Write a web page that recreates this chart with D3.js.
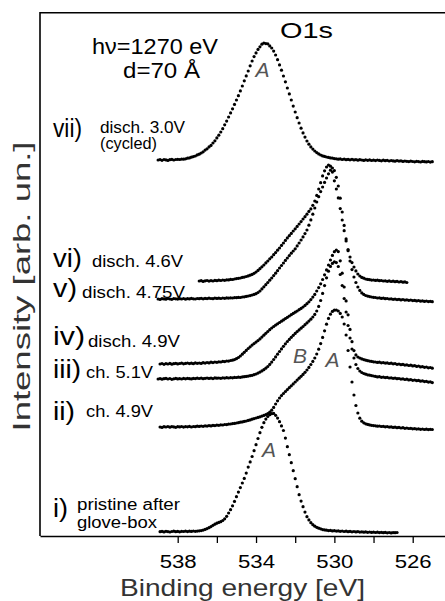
<!DOCTYPE html>
<html><head><meta charset="utf-8">
<script src="https://cdn.jsdelivr.net/npm/d3@7"></script>
<style>html,body{margin:0;padding:0;background:#fff;}svg{display:block;}</style>
</head><body>
<svg id="chart" width="445" height="601"></svg>
<script>
// O1s spectra, one array per electrode state, sampled every 0.1 eV from high to low binding energy.
// Intensities are given relative to each spectrum's own baseline; baselineOffset stacks them.
const numeralLabels = ["i)", "ii)", "iii)", "iv)", "v)", "vi)", "vii)"];
const stateLabels = [["pristine after", "glove-box"], ["ch. 4.9V"], ["ch. 5.1V"], ["disch. 4.9V"],
                     ["disch. 4.75V"], ["disch. 4.6V"], ["disch. 3.0V", "(cycled)"]];
const startEnergy = [538.9, 538.9, 539.0, 538.9, 539.0, 536.9, 539.0];
const energyStep = 0.1;
const baselineOffset = [4.3, 109, 157, 172, 237, 255, 376];

const spec_i = [
  0.0,0.3,-0.2,0.4,0.1,-0.3,0.2,0.5,0.0,0.3,
  -0.1,0.4,0.2,0.6,0.1,0.5,0.3,0.7,0.4,0.6,
  0.9,1.1,1.6,2.3,3.1,4.0,5.1,6.4,7.5,8.5,
  9.3,10.0,11.2,12.9,15.4,18.7,22.0,25.9,30.3,35.0,
  39.6,44.1,48.7,53.3,58.6,64.6,69.8,75.2,81.0,87.0,
  93.2,99.0,104.4,109.0,112.6,115.2,117.0,118.0,118.3,116.4,
  113.6,110.0,105.8,101.2,93.6,85.0,77.0,69.0,61.0,53.0,
  45.0,37.0,30.6,25.0,19.6,15.0,11.8,9.0,7.0,5.5,
  4.4,3.5,2.9,2.1,1.8,1.5,1.1,1.3,0.8,1.0,
  0.6,0.8,0.4,0.7,0.2,0.5,0.0,0.3,-0.1,0.2,
  -0.2,0.1,-0.4,-0.1,-0.5,-0.2,-0.6,-0.3,-0.7,-0.4,
  -0.8,-0.5,-0.9,-0.6,-1.0,-0.7,-1.1,-0.8,-1.2,-0.9,
  -1.0,-0.8];

const spec_ii = [
  0.0,-0.4,0.3,0.0,0.5,-0.2,0.4,0.1,-0.3,0.3,
  0.1,0.5,-0.1,0.4,0.2,0.6,0.0,0.5,0.3,0.8,
  0.6,1.0,0.7,1.2,0.9,1.4,1.1,1.6,1.4,1.9,
  1.7,2.2,2.0,2.5,2.4,2.9,3.0,3.4,3.6,4.0,
  4.3,4.8,5.1,5.6,6.0,6.6,7.1,7.8,8.4,9.0,
  9.6,10.2,10.9,11.6,12.4,13.4,14.8,16.8,19.6,23.0,
  26.2,29.0,31.4,33.5,35.5,37.4,39.3,41.2,43.1,45.0,
  46.9,48.8,50.7,52.6,54.7,57.0,59.6,62.5,65.6,69.0,
  73.0,77.8,83.4,89.6,96.2,102.8,108.6,112.8,115.6,116.8,
  117.0,116.0,113.6,110.0,103.0,92.0,76.5,60.0,45.0,32.0,
  21.5,14.0,8.8,5.8,4.2,3.2,2.6,2.1,1.7,1.4,
  1.2,0.8,1.0,0.5,0.7,0.2,0.4,-0.1,0.1,-0.4,
  -0.2,-0.7,-0.4,-1.0,-0.7,-1.3,-1.0,-1.5,-1.3,-1.8,
  -1.6,-2.1,-1.8,-2.3,-2.0,-2.5,-2.2,-2.6,-2.3,-2.5];

const spec_iii = [
  0.0,0.4,-0.2,0.3,0.6,0.0,0.5,-0.3,0.2,0.6,0.1,
  0.4,0.0,0.6,0.2,0.7,0.3,0.1,0.6,0.4,0.8,
  0.5,0.9,0.3,0.7,1.0,0.6,0.9,0.4,1.1,0.8,
  1.0,0.7,1.2,0.9,1.3,1.0,1.4,1.2,1.6,1.5,
  1.8,1.7,2.1,2.3,2.6,2.9,3.3,3.7,4.3,5.0,
  5.9,6.9,8.1,9.3,10.8,12.5,14.6,16.9,19.5,22.1,
  24.8,27.5,30.1,32.7,35.2,37.5,39.6,41.7,43.7,45.6,
  47.4,49.1,50.8,52.5,54.3,56.1,57.9,59.8,62.0,64.6,
  68.0,72.6,78.5,85.6,93.4,101.2,107.8,112.6,115.6,117.2,
  116.4,112.5,104.5,93.5,80.5,67.0,53.5,41.0,30.0,21.0,
  14.5,10.5,8.0,6.5,5.5,4.8,4.2,3.8,3.4,3.0,
  2.6,2.1,2.3,1.7,1.9,1.4,1.6,1.0,1.2,0.7,
  0.9,0.3,0.5,-0.1,0.2,-0.5,-0.2,-0.9,-0.6,-1.3,
  -1.0,-1.7,-1.4,-2.2,-1.8,-2.6,-2.3,-3.1,-2.8,-3.6];

const spec_iv = [
  0.0,0.5,-0.3,0.4,0.0,0.6,-0.2,0.3,0.7,0.1,
  0.5,0.9,0.2,0.6,1.0,0.4,0.8,0.3,1.1,0.7,
  1.0,0.6,1.3,0.9,1.5,1.1,1.8,1.4,2.0,1.7,
  2.2,2.0,2.6,2.4,3.0,2.9,3.5,3.8,4.4,5.3,
  6.5,8.0,9.8,11.7,13.6,15.5,17.2,18.9,20.4,21.9,
  23.4,25.1,26.9,28.8,30.7,32.5,34.3,36.0,37.5,38.9,
  40.2,41.5,42.8,44.1,45.4,46.7,48.0,49.3,50.6,51.8,
  53.0,54.3,55.6,57.0,58.6,60.3,62.2,64.4,66.9,69.6,
  73.0,76.4,80.2,84.5,89.2,94.1,99.0,104.0,108.6,112.3,
  114.0,112.4,103.2,90.8,77.0,63.1,49.2,34.6,22.3,13.4,
  9.1,7.0,6.0,5.1,4.4,3.8,3.3,2.9,2.6,2.2,
  2.0,1.6,1.8,1.2,1.4,0.9,1.1,0.5,0.8,0.2,
  0.4,-0.3,0.0,-0.7,-0.4,-1.1,-0.8,-1.5,-1.2,-1.9,
  -1.6,-2.4,-2.0,-2.9,-2.6,-3.3,-3.0,-3.8,-3.5,-4.2];

const spec_v = [
  0.0,-0.4,0.3,0.1,-0.2,0.5,0.0,-0.3,0.4,0.2,-0.1,
  0.3,0.0,0.5,-0.2,0.4,0.1,0.6,0.2,0.0,0.5,
  0.3,0.7,0.2,0.6,0.4,0.8,0.5,0.3,0.9,0.6,
  0.8,0.5,1.0,0.7,1.1,0.9,1.2,1.0,1.4,1.3,
  1.6,1.5,2.0,2.2,2.6,3.0,3.4,4.0,4.6,5.3,
  6.5,8.0,10.1,12.2,14.3,16.5,18.8,21.0,23.4,25.8,
  28.3,31.0,33.5,36.0,38.6,41.0,43.4,45.8,48.0,50.2,
  53.1,56.0,59.0,62.1,65.4,69.0,73.8,79.1,84.8,91.0,
  97.0,102.3,107.4,112.0,116.6,121.0,125.2,128.8,131.0,128.4,
  121.7,113.0,100.8,87.0,73.6,60.1,48.3,38.0,29.4,22.0,
  16.5,12.0,8.6,6.1,4.6,3.5,2.9,2.4,2.0,1.7,
  1.5,1.0,1.2,0.6,0.9,0.3,0.5,0.0,0.2,-0.3,
  -0.1,-0.6,-0.3,-0.9,-0.5,-1.1,-0.8,-1.3,-1.0,-1.6,
  -1.4,-1.9,-1.5,-2.2,-1.8,-2.4,-2.0,-2.6,-2.3,-2.7];

const spec_vi = [
  0.0,0.3,-0.4,0.2,0.5,-0.1,0.4,0.0,0.6,0.3,
  0.8,0.5,1.0,0.7,1.2,1.1,1.6,1.5,2.0,2.4,
  2.7,3.0,3.6,3.9,4.5,5.1,5.8,6.6,7.7,9.0,
  10.6,12.3,14.2,16.0,18.1,20.0,22.2,24.0,26.3,28.4,
  30.8,33.0,35.6,38.0,40.6,43.1,45.3,47.6,50.0,52.2,
  54.6,57.0,59.4,62.0,64.3,66.8,69.6,72.1,75.7,80.0,
  85.6,92.0,98.3,105.1,110.2,114.0,116.0,114.8,108.9,100.2,
  92.0,83.1,72.4,61.0,50.3,40.1,31.4,24.0,18.4,14.0,
  10.1,7.0,5.0,3.6,2.8,2.0,1.6,1.3,0.9,1.0,
  0.6,0.8,0.3,0.5,0.0,0.2,-0.3,0.1,-0.5,-0.2,
  -0.7,-0.4,-1.0,-0.6,-1.2,-0.9,-1.5];

const spec_vii = [
  0.0,0.4,-0.3,0.5,0.1,-0.4,0.3,0.6,0.0,0.5,0.7,
  0.5,0.9,0.8,1.2,1.8,2.1,2.8,3.4,4.0,5.1,
  5.8,7.0,8.2,9.9,11.2,13.1,14.6,17.0,19.2,22.1,
  24.8,28.0,31.3,35.2,38.9,43.0,47.1,51.2,55.6,60.0,
  64.3,69.1,74.0,79.2,84.1,89.0,94.2,99.0,103.4,107.1,
  110.6,113.2,115.8,117.0,116.4,116.2,114.1,112.0,108.9,105.0,
  100.3,95.1,89.8,84.0,78.2,72.0,66.1,60.0,53.9,48.0,
  42.3,37.0,31.8,27.1,22.9,19.0,15.8,13.1,10.9,9.0,
  7.4,6.1,5.0,4.1,3.6,3.0,2.6,2.1,1.9,1.4,
  1.2,0.8,1.1,0.5,0.9,0.3,0.6,0.2,0.7,0.1,
  0.4,-0.2,0.3,0.0,-0.4,0.2,-0.3,0.1,-0.5,-0.1,
  -0.6,0.0,-0.4,-0.8,-0.2,-0.7,-0.3,-1.0,-0.5,-0.9,
  -1.2,-0.6,-1.1,-0.8,-1.4,-1.0,-1.3,-1.6,-1.1,-1.5,
  -1.8,-1.3,-1.6,-2.0,-1.4,-1.7,-1.9,-1.5,-2.1,-1.7];

const spectra = [spec_i, spec_ii, spec_iii, spec_iv, spec_v, spec_vi, spec_vii];

const tickValues = [538, 536, 534, 532, 530, 528, 526];
const tickLabels = ["538", "", "534", "", "530", "", "526"];

// peak component markers: letter, binding energy, intensity
const peakNames = ["A", "A", "B", "A"];
const peakEnergy = [533.67, 533.34, 531.75, 530.09];
const peakLevel = [459.5, 79.5, 173, 169.5];

const FONT = "'Liberation Sans', Arial, Helvetica, sans-serif";
const svg = d3.select("#chart");

const x = d3.scaleLinear().domain([545.031, 524.351]).range([40, 445]);
const y = d3.scaleLinear().domain([0, 523.3]).range([536, 12.7]);

// frame: left spine and top edge
svg.append("path")
  .attr("d", `M${x.range()[1]},${y.range()[1]}H${x.range()[0]}V${y.range()[0]}`)
  .attr("fill", "none").attr("stroke", "#000").attr("stroke-width", 1.6);

// bottom axis
const xAxis = d3.axisBottom(x)
  .tickValues(tickValues)
  .tickFormat((d, i) => tickLabels[i])
  .tickSizeInner(7).tickSizeOuter(0);
const gx = svg.append("g").attr("transform", `translate(0,${y.range()[0]})`).call(xAxis);
gx.select(".domain").attr("stroke-width", 1.6);
gx.selectAll(".tick line").attr("stroke-width", 1.3);
gx.selectAll(".tick text")
  .attr("y", 32).attr("dy", null)
  .attr("font-family", FONT).attr("font-size", 18).attr("fill", "#000")
  .each(function () { if (this.textContent) d3.select(this).attr("textLength", 37).attr("lengthAdjust", "spacingAndGlyphs"); });

// spectra drawn as sample markers
spectra.forEach((vals, s) => {
  const pts = vals.map((v, k) => ({ e: startEnergy[s] - k * energyStep, v: baselineOffset[s] + v }));
  svg.append("g").selectAll("circle").data(pts).join("circle")
    .attr("cx", d => x(d.e)).attr("cy", d => y(d.v))
    .attr("r", 1.6).attr("fill", "#000");
});

// axis titles
svg.append("text")
  .attr("x", 242.5).attr("y", 596).attr("text-anchor", "middle")
  .attr("font-family", FONT).attr("font-size", 24).attr("fill", "#333")
  .attr("textLength", 245).attr("lengthAdjust", "spacingAndGlyphs")
  .text("Binding energy [eV]");
svg.append("text")
  .attr("transform", "translate(30,286.5) rotate(-90)").attr("text-anchor", "middle")
  .attr("font-family", FONT).attr("font-size", 24).attr("fill", "#333")
  .attr("textLength", 290).attr("lengthAdjust", "spacingAndGlyphs")
  .text("Intensity [arb. un.]");

// header texts
const header = [
  { t: "O1s", x: 280, y: 38, len: 53 },
  { t: "h\u03BD=1270 eV", x: 92, y: 54, len: 126 },
  { t: "d=70 \u00C5", x: 123, y: 77.5, len: 77 }
];
header.forEach(h => svg.append("text")
  .attr("x", h.x).attr("y", h.y)
  .attr("font-family", FONT).attr("font-size", 22).attr("fill", "#000")
  .attr("textLength", h.len).attr("lengthAdjust", "spacingAndGlyphs")
  .text(h.t));

// spectrum labels: roman numeral + state description
const labelLayout = [
  { ny: 516.5, nlen: 15, dx: 77, dy: [510, 528], dlen: [103, 80] },
  { ny: 420, nlen: 22, dx: 86, dy: [416.5], dlen: [67] },
  { ny: 377.5, nlen: 28, dx: 86, dy: [377.5], dlen: [67] },
  { ny: 345, nlen: 32, dx: 88, dy: [346.5], dlen: [92] },
  { ny: 296.5, nlen: 24, dx: 82, dy: [297.5], dlen: [103] },
  { ny: 266.5, nlen: 29, dx: 92, dy: [266.5], dlen: [91] },
  { ny: 136.5, nlen: 29, dx: 100, dy: [132.5, 149], dlen: [85, 57] }
];
labelLayout.forEach((L, s) => {
  svg.append("text")
    .attr("x", 53).attr("y", L.ny)
    .attr("font-family", FONT).attr("font-size", 25).attr("fill", "#000")
    .attr("textLength", L.nlen).attr("lengthAdjust", "spacingAndGlyphs")
    .text(numeralLabels[s]);
  stateLabels[s].forEach((line, j) => svg.append("text")
    .attr("x", L.dx).attr("y", L.dy[j])
    .attr("font-family", FONT).attr("font-size", 16).attr("fill", "#000")
    .attr("textLength", L.dlen[j]).attr("lengthAdjust", "spacingAndGlyphs")
    .text(line));
});

// peak component letters
peakNames.forEach((n, i) => svg.append("text")
  .attr("x", x(peakEnergy[i])).attr("y", y(peakLevel[i])).attr("text-anchor", "middle")
  .attr("font-family", FONT).attr("font-size", 21).attr("font-style", "italic").attr("fill", "#555")
  .text(n));
</script>
</body></html>
